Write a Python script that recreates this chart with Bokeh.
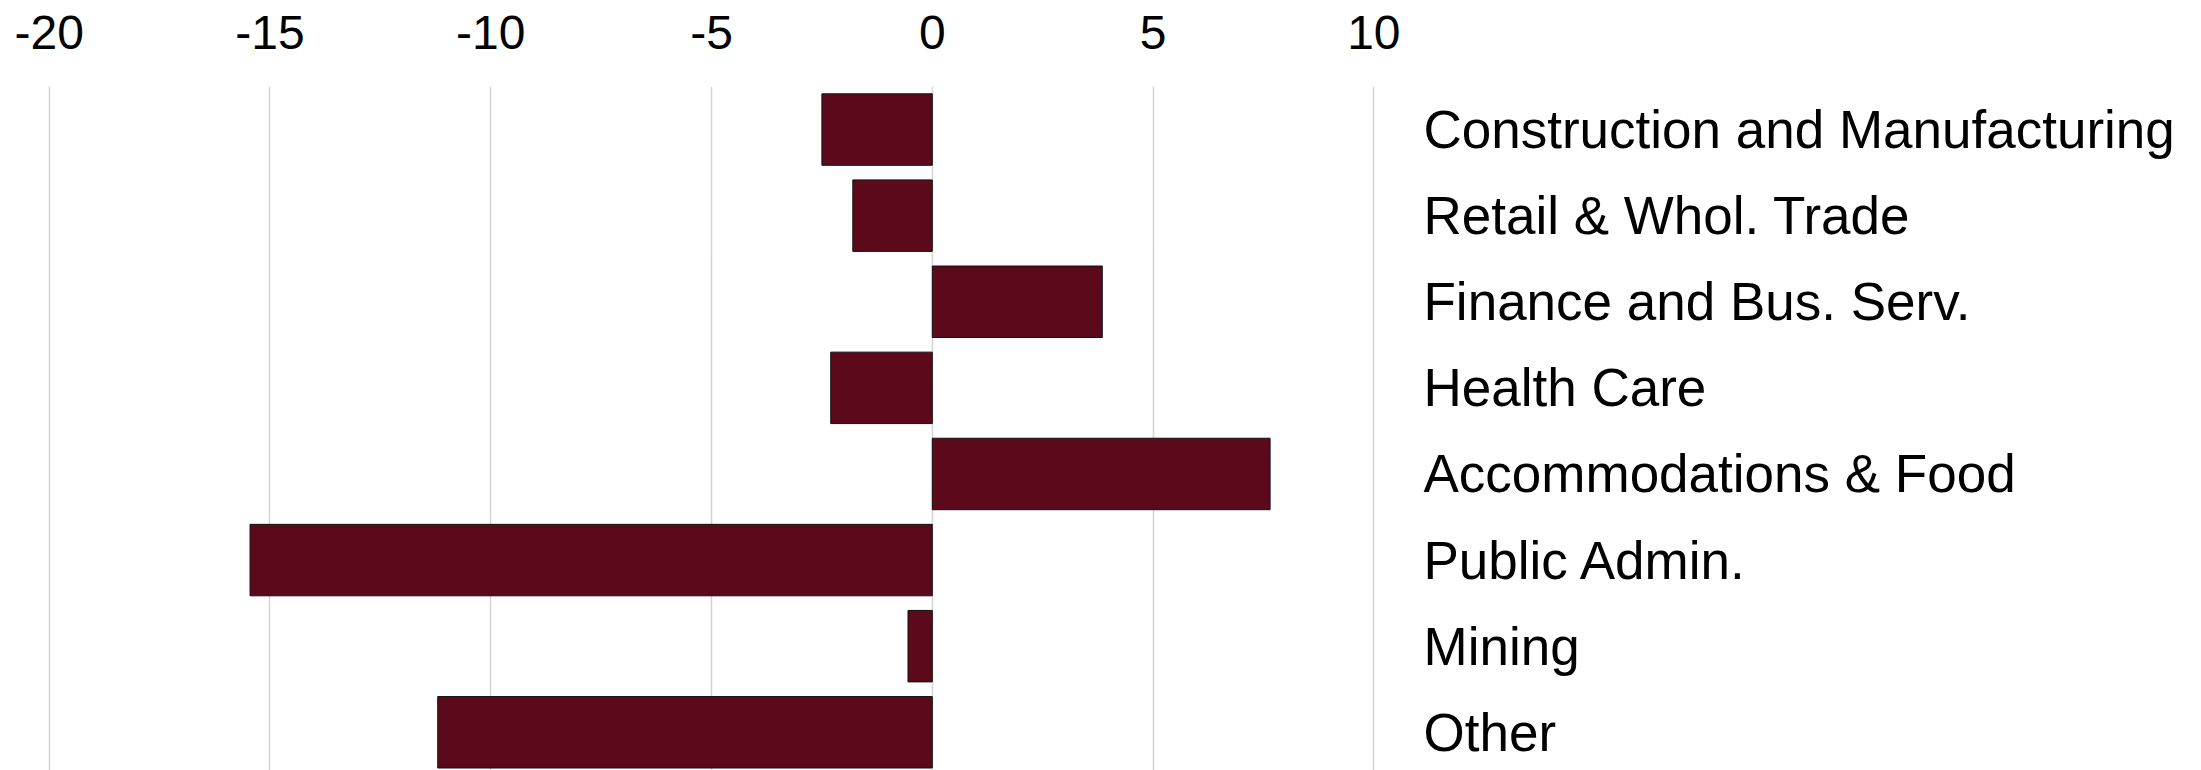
from bokeh.plotting import figure
from bokeh.models import Range1d, FixedTicker
from bokeh.embed import file_html
from bokeh.resources import INLINE

categories = [
    "Construction and Manufacturing",
    "Retail & Whol. Trade",
    "Finance and Bus. Serv.",
    "Health Care",
    "Accommodations & Food",
    "Public Admin.",
    "Mining",
    "Other",
]
values = [-2.5, -1.8, 3.85, -2.3, 7.65, -15.45, -0.55, -11.2]
x_ticks = [-20, -15, -10, -5, 0, 5, 10]
x_tick_labels = ["-20", "-15", "-10", "-5", "0", "5", "10"]

positions = list(range(len(categories)))

p = figure(
    frame_width=1330, frame_height=684,
    x_range=Range1d(-20.06, 10.06),
    y_range=Range1d(7.444, -0.5),
    x_axis_location="above",
    y_axis_location="right",
    output_backend="svg",
    toolbar_location=None,
    min_border_left=46, min_border_top=86, min_border_bottom=0, min_border_right=10,
)
p.outline_line_color = None

p.hbar(y=positions, right=values, left=0, height=0.83,
       fill_color="#5C0A1B", line_color="#111111", line_width=1)

p.xaxis.ticker = FixedTicker(ticks=x_ticks)
p.xaxis.major_label_overrides = dict(zip(x_ticks, x_tick_labels))
p.xaxis.axis_line_color = None
p.xaxis.major_tick_line_color = None
p.xaxis.minor_tick_line_color = None
p.xaxis.major_label_text_font = "Liberation Sans"
p.xaxis.major_label_text_font_size = "48px"
p.xaxis.major_label_text_color = "#000000"
p.xaxis.major_label_standoff = 32

p.yaxis.ticker = FixedTicker(ticks=positions)
p.yaxis.major_label_overrides = {i: c for i, c in enumerate(categories)}
p.yaxis.axis_line_color = None
p.yaxis.major_tick_line_color = None
p.yaxis.minor_tick_line_color = None
p.yaxis.major_label_text_font = "Liberation Sans"
p.yaxis.major_label_text_font_size = "53px"
p.yaxis.major_label_text_color = "#000000"
p.yaxis.major_label_standoff = 41

p.xgrid.ticker = FixedTicker(ticks=x_ticks)
p.xgrid.grid_line_color = "#d4d4d4"
p.xgrid.grid_line_width = 1.5
p.ygrid.grid_line_color = None

open("out.html", "w").write(file_html(p, INLINE))
